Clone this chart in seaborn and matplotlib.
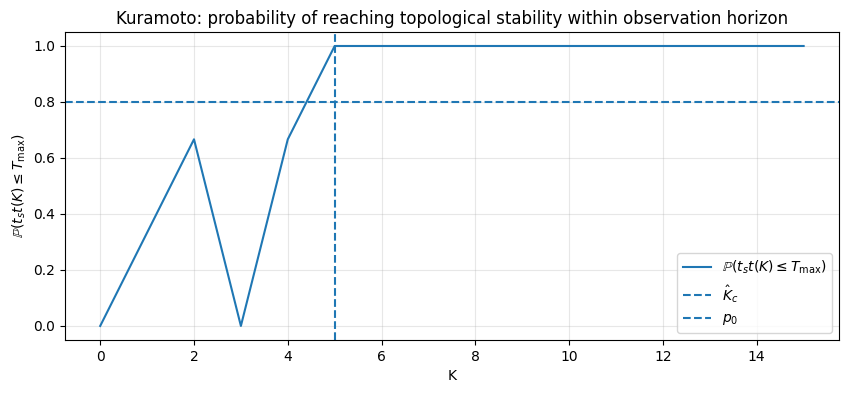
import matplotlib
matplotlib.use("Agg")
import matplotlib.pyplot as plt
import seaborn as sns
import numpy as np

# Data
K_values = [0, 1, 2, 3, 4, 5, 6, 7, 8, 9, 10, 11, 12, 13, 14, 15]
p_stable = [0.0, 0.3333, 0.6667, 0.0, 0.6667, 1.0, 1.0, 1.0, 1.0, 1.0, 1.0, 1.0, 1.0, 1.0, 1.0, 1.0]
K_c_hat = 5
p0 = 0.8

plt.style.use("default")
fig, ax = plt.subplots(figsize=(8.49, 3.93), dpi=100)

sns.lineplot(x=K_values, y=p_stable, ax=ax, color="#1f77b4",
             label=r"$\mathbb{P}(t_st(K) \leq T_{\max})$")
ax.axvline(K_c_hat, linestyle="--", color="#1f77b4", label=r"$\hat{K}_c$")
ax.axhline(p0, linestyle="--", color="#1f77b4", label=r"$p_0$")

ax.set_xlabel("K")
ax.set_ylabel(r"$\mathbb{P}(t_st(K) \leq T_{\max})$")
ax.set_title("Kuramoto: probability of reaching topological stability within observation horizon")
ax.grid(True, alpha=0.3)
ax.legend(loc="lower right")

fig.subplots_adjust(left=0.0766, right=0.988, bottom=0.135, top=0.9186)
plt.savefig("out.png", dpi=100)
